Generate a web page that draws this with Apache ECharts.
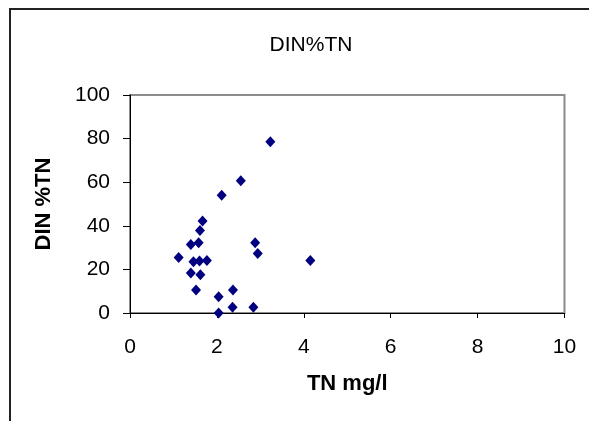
<!DOCTYPE html>
<html>
<head>
<meta charset="utf-8">
<script src="https://cdn.jsdelivr.net/npm/echarts@6/dist/echarts.min.js"></script>
<style>
  html, body { margin: 0; padding: 0; background: #fff; }
  #chart { width: 589px; height: 421px; }
</style>
</head>
<body>
<div id="chart"></div>
<script>
// TN concentration (mg/l) and DIN as a percentage of TN for each sample
const tnValues = [3.23, 2.55, 2.11, 1.67, 1.61, 1.40, 1.58, 2.88, 2.94, 1.12, 1.46,
                  1.60, 1.77, 4.15, 1.40, 1.62, 1.52, 2.37, 2.04, 2.36, 2.84, 2.04];
const dinPctValues = [78.5, 60.7, 54.0, 42.2, 37.9, 31.4, 32.2, 32.2, 27.3, 25.5, 23.5,
                      23.9, 24.1, 24.1, 18.4, 17.5, 10.6, 10.6, 7.5, 2.6, 2.6, 0];
const xTicks = [0, 2, 4, 6, 8, 10];
const yTicks = [0, 20, 40, 60, 80, 100];

const points = tnValues.map((v, i) => [v, dinPctValues[i]]);
const font = '"Liberation Sans", Arial, sans-serif';

const chart = echarts.init(document.getElementById('chart'), null, { renderer: 'canvas' });
chart.setOption({
  animation: false,
  backgroundColor: '#fff',
  title: {
    text: 'DIN%TN',
    left: 306,
    top: 30,
    textAlign: 'center',
    textStyle: { fontFamily: font, fontSize: 21, fontWeight: 'normal', color: '#000' }
  },
  graphic: [{
    type: 'rect',
    shape: { x: 10, y: 9, width: 800, height: 600 },
    style: { fill: 'none', stroke: '#222', lineWidth: 2 },
    silent: true
  }],
  grid: {
    left: 130, right: 24.5, top: 95, bottom: 108,
    show: true, borderColor: '#8c8c8c', borderWidth: 2, backgroundColor: 'transparent'
  },
  xAxis: {
    type: 'value',
    min: xTicks[0], max: xTicks[xTicks.length - 1], interval: xTicks[1] - xTicks[0],
    name: 'TN mg/l',
    nameLocation: 'middle',
    nameGap: 60,
    nameTextStyle: { fontFamily: font, fontSize: 22, fontWeight: 'bold', color: '#000' },
    axisLine: { lineStyle: { color: '#000', width: 1 } },
    axisTick: { show: true, inside: false, length: 5, lineStyle: { color: '#000' } },
    axisLabel: { margin: 24, fontFamily: font, fontSize: 21, color: '#000' },
    splitLine: { show: false }
  },
  yAxis: {
    type: 'value',
    min: yTicks[0], max: yTicks[yTicks.length - 1], interval: yTicks[1] - yTicks[0],
    name: 'DIN %TN',
    nameLocation: 'middle',
    nameGap: 75,
    nameRotate: 90,
    nameTextStyle: { fontFamily: font, fontSize: 22, fontWeight: 'bold', color: '#000' },
    axisLine: { show: true, lineStyle: { color: '#000', width: 1 } },
    axisTick: { show: true, inside: false, length: 7, lineStyle: { color: '#000' } },
    axisLabel: { margin: 20, fontFamily: font, fontSize: 21, color: '#000' },
    splitLine: { show: false }
  },
  series: [{
    type: 'scatter',
    data: points,
    symbol: 'diamond',
    symbolSize: [10, 11],
    itemStyle: { color: '#000080', opacity: 1 }
  }]
});
</script>
</body>
</html>
